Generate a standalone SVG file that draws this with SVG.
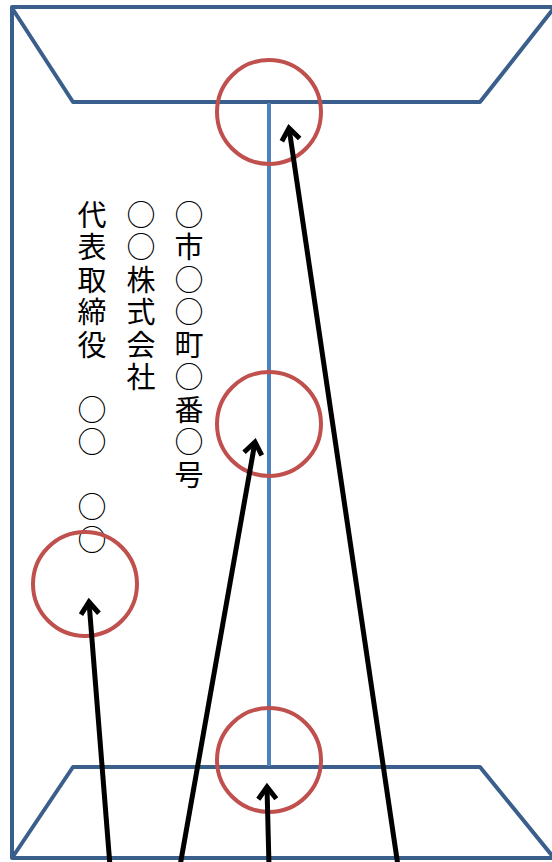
<svg xmlns="http://www.w3.org/2000/svg" width="552" height="862" viewBox="0 0 552 862">
<style>
.env{fill:none;stroke:#3b5f8c;stroke-width:4;stroke-linejoin:round}
.fold{fill:none;stroke:#4f81bd;stroke-width:4}
.mark{fill:none;stroke:#c0504d;stroke-width:4}
.arr{fill:none;stroke:#000;stroke-width:5}
.vt{font-family:"Noto Sans CJK JP","Noto Sans CJK SC",sans-serif;font-size:29px;fill:#000;writing-mode:vertical-rl;letter-spacing:3.5px}
</style>
<defs>
<marker id="ah" markerUnits="userSpaceOnUse" viewBox="-16 -16 32 32" markerWidth="32" markerHeight="32" refX="0" refY="0" orient="auto">
<path d="M-12,-9 L0,0 L-12,9" fill="none" stroke="#000" stroke-width="5" stroke-linejoin="miter"/>
</marker>
</defs>
<rect width="552" height="862" fill="#fff"/>
<g id="envelope">
<rect class="env" x="12" y="7" width="546" height="851"/>
<polyline class="env" points="12,8 73,102 480,102 554,8"/>
<polyline class="env" points="12,858 73,767 480,767 554,858"/>
</g>
<g id="fold-line">
<line class="fold" x1="269" y1="103" x2="269" y2="766"/>
</g>
<g id="address-text">
<text class="vt" x="189" y="200">○市○○町○番○号</text>
<text class="vt" x="141" y="200">○○株式会社</text>
<text class="vt" x="92" y="200">代表取締役　○○　○○</text>
</g>
<g id="circle-top"><circle class="mark" cx="269" cy="112" r="52"/></g>
<g id="circle-middle"><circle class="mark" cx="269" cy="424" r="52"/></g>
<g id="circle-left"><circle class="mark" cx="85" cy="584" r="52"/></g>
<g id="circle-bottom"><circle class="mark" cx="269" cy="760" r="52"/></g>
<g id="connectors">
<line class="arr" x1="398" y1="866" x2="289" y2="128" marker-end="url(#ah)"/>
<line class="arr" x1="180" y1="866" x2="255" y2="442" marker-end="url(#ah)"/>
<line class="arr" x1="110" y1="866" x2="89" y2="602" marker-end="url(#ah)"/>
<line class="arr" x1="269" y1="866" x2="267" y2="787" marker-end="url(#ah)"/>
</g>
</svg>
